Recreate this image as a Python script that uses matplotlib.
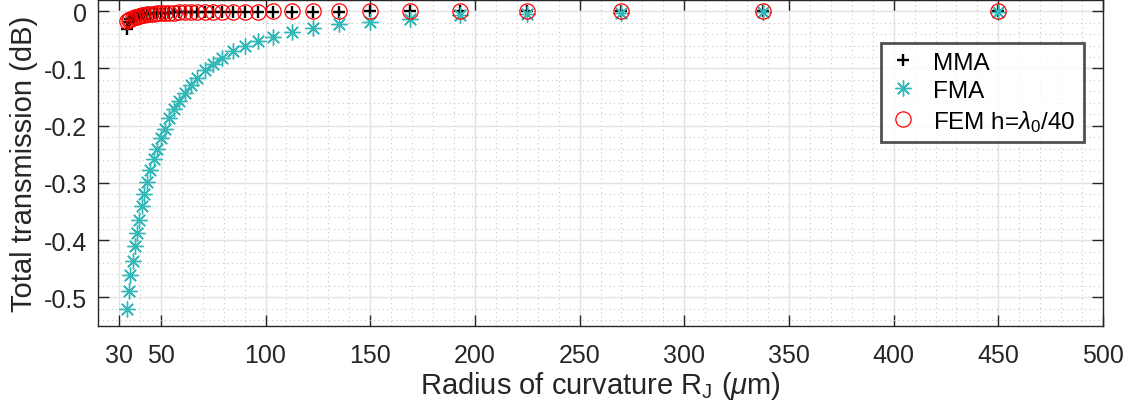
import matplotlib
matplotlib.use("Agg")
import matplotlib.pyplot as plt
from matplotlib.ticker import MultipleLocator, FixedLocator

plt.rcParams['font.family'] = ['Liberation Sans', 'DejaVu Sans']
plt.rcParams['mathtext.fontset'] = 'custom'
plt.rcParams['mathtext.rm'] = 'Liberation Sans'
plt.rcParams['mathtext.it'] = 'Liberation Sans:italic'
plt.rcParams['axes.unicode_minus'] = False

# Radius of curvature (um)
radius = [450.0, 337.5, 270.0, 225.0, 192.9, 168.8, 150.0, 135.0, 122.7, 112.5,
          103.8, 96.4, 90.0, 84.4, 79.4, 75.0, 71.1, 67.5, 64.3, 61.4,
          58.7, 56.3, 54.0, 51.9, 50.0, 48.2, 46.6, 45.0, 43.5, 42.2,
          40.9, 39.7, 38.6, 37.5, 36.5, 35.5, 34.6, 33.8]

# Total transmission (dB)
mma = [0.0, 0.0, 0.0, 0.0, 0.0, 0.0, 0.0, -0.0005, -0.0005, -0.0005,
       -0.0005, -0.0008, -0.0008, -0.001, -0.001, -0.001, -0.001, -0.0012, -0.0012, -0.0015,
       -0.0018, -0.002, -0.0022, -0.0025, -0.003, -0.0033, -0.0037, -0.004, -0.0045, -0.005,
       -0.0058, -0.0066, -0.0076, -0.009, -0.011, -0.014, -0.019, -0.031]

fma = [-0.001, -0.002, -0.003, -0.005, -0.007, -0.014, -0.019, -0.022, -0.030, -0.037,
       -0.045, -0.052, -0.061, -0.070, -0.082, -0.093, -0.103, -0.117, -0.129, -0.143,
       -0.157, -0.171, -0.187, -0.205, -0.222, -0.240, -0.259, -0.278, -0.298, -0.319,
       -0.340, -0.364, -0.387, -0.410, -0.437, -0.461, -0.488, -0.521]

fem = [0.0, 0.0, 0.0, 0.0, 0.0, 0.0, 0.0, 0.0, 0.0, -0.0003,
       -0.0004, -0.0005, -0.0006, -0.0007, -0.0008, -0.0009, -0.001, -0.0012, -0.0014, -0.0016,
       -0.0019, -0.0022, -0.0026, -0.003, -0.0034, -0.0038, -0.0043, -0.0049, -0.0056, -0.0064,
       -0.0072, -0.0082, -0.0093, -0.0106, -0.012, -0.0136, -0.0153, -0.0172]

x_ticks = [30, 50, 100, 150, 200, 250, 300, 350, 400, 450, 500]
y_ticks = [0, -0.1, -0.2, -0.3, -0.4, -0.5]
y_tick_labels = ['0', '-0.1', '-0.2', '-0.3', '-0.4', '-0.5']

fig = plt.figure(figsize=(11.31, 4.10), dpi=100)
ax = fig.add_axes([98 / 1131, 1 - 327 / 410, (1103 - 98) / 1131, 327 / 410 - 0.002])

teal = (0.2, 0.72, 0.72)
ax.plot(radius, mma, linestyle='none', marker='+', color='black',
        markersize=8, markeredgewidth=1.7, label='MMA', zorder=3)
ax.plot(radius, fma, linestyle='none', marker=(8, 2, 0), color=teal,
        markersize=11.5, markeredgewidth=1.0, label='FMA', zorder=3)
ax.plot(radius, fem, linestyle='none', marker='o', markerfacecolor='none',
        markeredgecolor='red', markersize=11, markeredgewidth=0.9,
        label=r'FEM h=$\lambda_{\rm 0}$/40', zorder=3)

ax.set_xlim(20, 500)
ax.set_ylim(-0.55, 0.02)
ax.xaxis.set_major_locator(FixedLocator(x_ticks))
ax.xaxis.set_minor_locator(MultipleLocator(10))
ax.set_yticks(y_ticks)
ax.set_yticklabels(y_tick_labels)
ax.yaxis.set_minor_locator(MultipleLocator(0.02))

ax.grid(True, which='major', color='#E3E3E3', linewidth=1.0, zorder=0)
ax.grid(True, which='minor', color='#C8C8C8', linestyle=(0, (1, 3)), linewidth=0.8, zorder=0)
ax.set_axisbelow(True)

for sp in ax.spines.values():
    sp.set_color('#262626')
    sp.set_linewidth(1.0)
ax.tick_params(which='major', direction='in', length=8, width=1.0, color='#262626',
               top=True, right=True, labelsize=18, labelcolor='#262626')
ax.tick_params(which='minor', length=0, top=True, right=True)
ax.tick_params(axis='x', pad=12)
ax.tick_params(axis='y', pad=8)

ax.set_xlabel(r'Radius of curvature R$_{\rm J}$ ($\mu$m)', fontsize=21, color='#262626', labelpad=2)
ax.set_ylabel('Total transmission (dB)', fontsize=21, color='#262626', labelpad=4)

leg = ax.legend(loc='upper left', bbox_to_anchor=(881 / 1131, 1 - 44 / 410),
                bbox_transform=fig.transFigure, fontsize=17.5, frameon=True,
                fancybox=False, edgecolor='#262626', handlelength=1.1,
                handletextpad=0.7, borderpad=0.35, labelspacing=0.25, borderaxespad=0)
leg.get_frame().set_linewidth(2.0)

fig.savefig('out.png', dpi=100)
